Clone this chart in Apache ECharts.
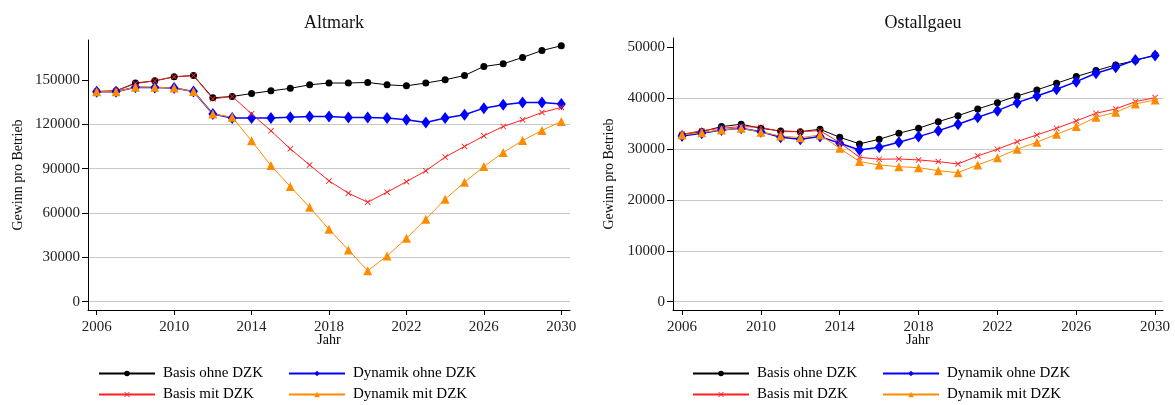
<!DOCTYPE html>
<html>
<head>
<meta charset="utf-8">
<script src="https://cdn.jsdelivr.net/npm/echarts@6/dist/echarts.min.js"></script>
<style>
  html, body { margin: 0; padding: 0; background: #fff; }
  #container { width: 1175px; height: 405px; }
</style>
</head>
<body>
<div id="container"></div>
<script>
// Jahre und Werte
var years = [2006, 2007, 2008, 2009, 2010, 2011, 2012, 2013, 2014, 2015, 2016, 2017, 2018,
    2019, 2020, 2021, 2022, 2023, 2024, 2025, 2026, 2027, 2028, 2029, 2030];
var xTicks = [2006, 2010, 2014, 2018, 2022, 2026, 2030];
var yTicksAltmark = [0, 30000, 60000, 90000, 120000, 150000];
var yTicksOstallgaeu = [0, 10000, 20000, 30000, 40000, 50000];

// Altmark
var altBasisOhne = [142200, 142600, 147900, 149400, 152100, 153000, 137900, 138800, 140800, 142600, 144300, 146700, 147900,
    147900, 148300, 146700, 146000, 147900, 150100, 153000, 159100, 160900, 165200, 169900, 173100];
var altBasisMit = [142200, 142600, 147500, 149400, 152100, 153000, 137200, 138800, 127100, 115600, 103400, 92500, 81700,
    73400, 67300, 74100, 81200, 88500, 97800, 105000, 112200, 118500, 123000, 128000, 131400];
var altDynOhne = [142000, 142000, 145100, 144800, 144500, 142200, 126900, 124200, 124200, 124200, 124800, 125300, 125300,
    124600, 124600, 124200, 123000, 121200, 124200, 126400, 130900, 133200, 134700, 134700, 133800];
var altDynMit = [142000, 142000, 145100, 145100, 144500, 142200, 126900, 124800, 108800, 92100, 77900, 63900, 49000,
    35000, 21000, 30900, 42900, 55800, 69300, 80800, 91400, 100900, 109000, 115800, 121900];

// Ostallgaeu
var ostBasisOhne = [32750, 33400, 34400, 34860, 34070, 33540, 33400, 33870, 32300, 31000, 31900, 33100, 34070,
    35370, 36550, 37860, 39100, 40420, 41600, 42910, 44220, 45400, 46510, 47360, 48480];
var ostBasisMit = [32890, 33600, 34070, 34400, 34270, 33400, 33400, 33600, 31250, 28370, 27980, 28040, 27850,
    27520, 27060, 28630, 29950, 31440, 32760, 34070, 35510, 37020, 37860, 39300, 40090];
var ostDynOhne = [32560, 33100, 33740, 34070, 33400, 32300, 31900, 32430, 31120, 29810, 30340, 31320, 32430,
    33600, 34860, 36230, 37530, 39100, 40420, 41730, 43230, 44880, 46060, 47500, 48340];
var ostDynMit = [32750, 33210, 33740, 34070, 33290, 32560, 32230, 32750, 30140, 27520, 26860, 26530, 26330,
    25740, 25350, 26860, 28300, 29950, 31320, 32890, 34400, 36230, 37210, 38850, 39630];

var FONT = 'Liberation Serif';
var crossPath = 'path://M0,1L1,0L5,4L9,0L10,1L6,5L10,9L9,10L5,6L1,10L0,9L4,5Z';

function pairs(vals) {
    return years.map(function (y, i) { return [y, vals[i]]; });
}

function plain(v) { return String(v); }

function xAxisOpt(idx, min, max) {
    return {
        type: 'value', gridIndex: idx, min: min, max: max,
        name: 'Jahr', nameLocation: 'middle', nameGap: 23, nameMoveOverlap: false,
        nameTextStyle: { fontFamily: FONT, fontSize: 14, color: '#000' },
        axisLine: { onZero: false, lineStyle: { color: '#000', width: 1 } },
        axisTick: { customValues: xTicks, length: 5, lineStyle: { color: '#000' } },
        axisLabel: { customValues: xTicks, formatter: plain, fontFamily: FONT, fontSize: 15, color: '#222', margin: 10 },
        splitLine: { show: false }
    };
}

function yAxisOpt(idx, min, max, ticks, gap) {
    return {
        type: 'value', gridIndex: idx, min: min, max: max,
        name: 'Gewinn pro Betrieb', nameLocation: 'middle', nameGap: gap,
        nameTextStyle: { fontFamily: FONT, fontSize: 14, color: '#111' },
        axisLine: { show: true, onZero: false, lineStyle: { color: '#000', width: 1 } },
        axisTick: { show: true, customValues: ticks, length: 6, lineStyle: { color: '#000' } },
        axisLabel: { customValues: ticks, formatter: plain, fontFamily: FONT, fontSize: 15, color: '#222', margin: 8 },
        splitLine: { show: true, showMinLine: true, showMaxLine: false, lineStyle: { color: '#c8c8c8', width: 1 } }
    };
}

function seriesFor(idx, basisOhne, basisMit, dynOhne, dynMit) {
    return [
        {
            name: 'Basis ohne DZK', type: 'line', xAxisIndex: idx, yAxisIndex: idx,
            data: pairs(basisOhne), symbol: 'circle', symbolSize: 7,
            lineStyle: { color: '#000', width: 1 }, itemStyle: { color: '#000' }
        },
        {
            name: 'Dynamik ohne DZK', type: 'line', xAxisIndex: idx, yAxisIndex: idx,
            data: pairs(dynOhne), symbol: 'diamond', symbolSize: [9, 12],
            lineStyle: { color: '#0000ff', width: 1.5 }, itemStyle: { color: '#0000ff' }
        },
        {
            name: 'Basis mit DZK', type: 'line', xAxisIndex: idx, yAxisIndex: idx,
            data: pairs(basisMit), symbol: crossPath, symbolSize: 6,
            lineStyle: { color: '#ff2020', width: 1 }, itemStyle: { color: '#ff2020' }
        },
        {
            name: 'Dynamik mit DZK', type: 'line', xAxisIndex: idx, yAxisIndex: idx,
            data: pairs(dynMit), symbol: 'triangle', symbolSize: 9,
            lineStyle: { color: '#ff8c00', width: 1 }, itemStyle: { color: '#ff8c00' }
        }
    ];
}

function legendOpt(left, names) {
    return {
        orient: 'vertical', left: left, top: 365, padding: 0,
        itemWidth: 56, itemHeight: 7, itemGap: 4,
        selectedMode: false,
        textStyle: { fontFamily: FONT, fontSize: 15, color: '#000', lineHeight: 17, padding: [0, 0, 0, 3] },
        data: names
    };
}

var myChart = echarts.init(document.getElementById('container'), null, { renderer: 'canvas' });
var option = {
    backgroundColor: '#fff',
    animation: false,
    title: [
        { text: 'Altmark', left: 329, top: 9, textAlign: 'center',
          textStyle: { fontFamily: FONT, fontSize: 18, fontWeight: 'normal', color: '#111' } },
        { text: 'Ostallgaeu', left: 918, top: 9, textAlign: 'center',
          textStyle: { fontFamily: FONT, fontSize: 18, fontWeight: 'normal', color: '#111' } }
    ],
    grid: [
        { left: 88, right: 605, top: 40, bottom: 95 },
        { left: 673, right: 12, top: 38, bottom: 95 }
    ],
    xAxis: [
        xAxisOpt(0, 2005.55, 2030.45),
        xAxisOpt(1, 2005.54, 2030.4)
    ],
    yAxis: [
        yAxisOpt(0, -5600, 177000, yTicksAltmark, 63),
        yAxisOpt(1, -1630, 51800, yTicksOstallgaeu, 57)
    ],
    legend: [
        legendOpt(98, ['Basis ohne DZK', 'Basis mit DZK']),
        legendOpt(288, ['Dynamik ohne DZK', 'Dynamik mit DZK']),
        legendOpt(692, ['Basis ohne DZK', 'Basis mit DZK']),
        legendOpt(882, ['Dynamik ohne DZK', 'Dynamik mit DZK'])
    ],
    series: seriesFor(0, altBasisOhne, altBasisMit, altDynOhne, altDynMit)
        .concat(seriesFor(1, ostBasisOhne, ostBasisMit, ostDynOhne, ostDynMit))
};
myChart.setOption(option);
</script>
</body>
</html>
